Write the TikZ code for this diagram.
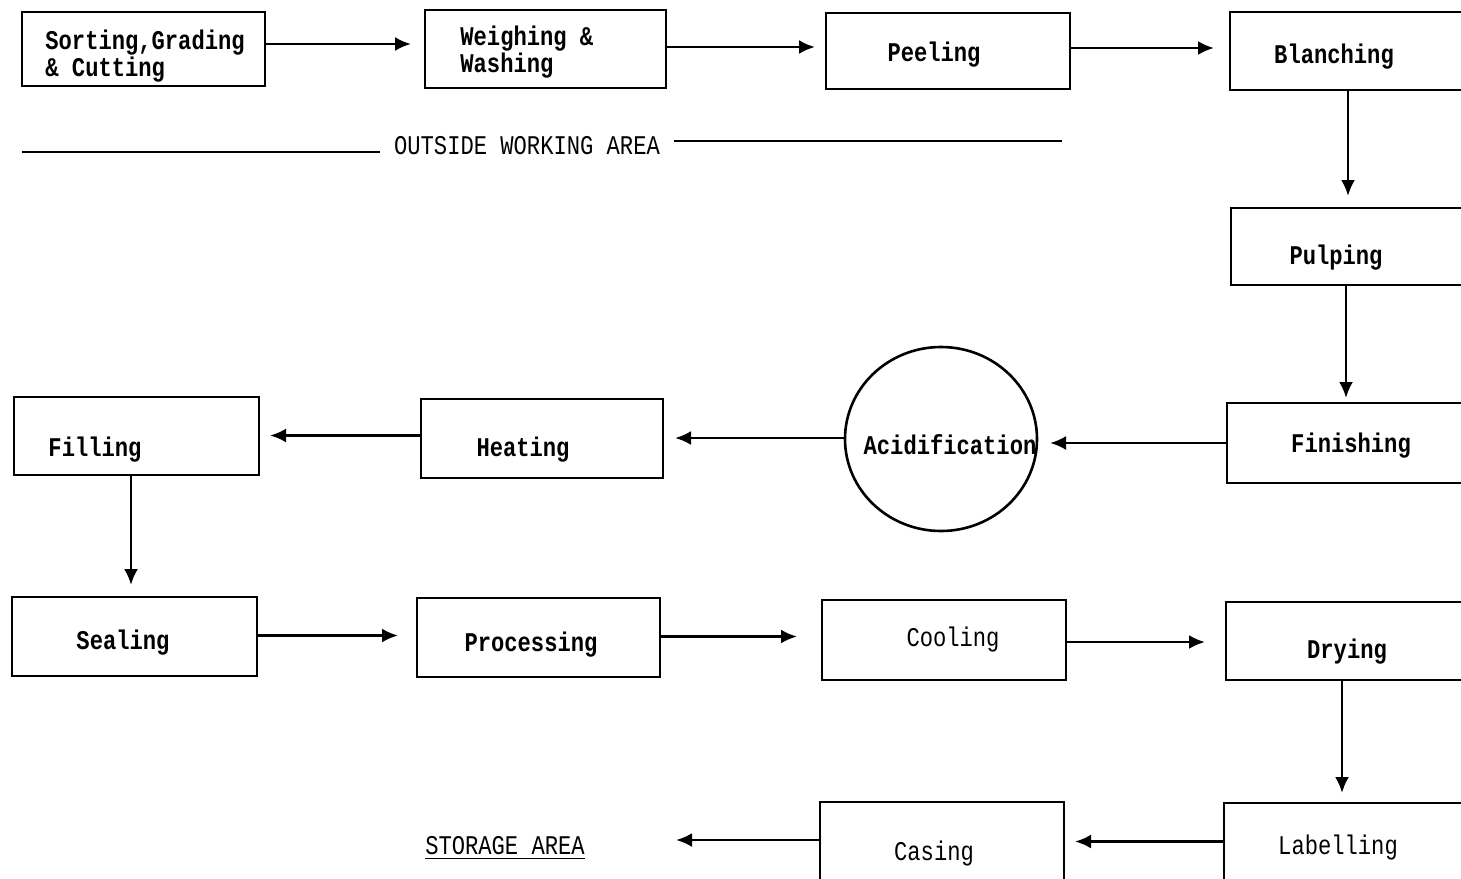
\documentclass[tikz,border=0pt]{standalone}
\usepackage{fontspec}
\newfontfamily\tw[FakeStretch=0.82]{Liberation Mono}
\usetikzlibrary{arrows.meta,shapes.geometric}
\begin{document}
\begin{tikzpicture}[x=0.5pt,y=-0.5pt,
  box/.style={draw,line width=1.3pt,inner sep=0pt,outer sep=0pt},
  bw/.style={minimum width=#1*0.5pt},
  bh/.style={minimum height=#1*0.5pt},
  lbl/.style={font=\tw\fontsize{13.5}{13.5}\selectfont\bfseries,inner sep=0pt,yshift=-1.5pt},
  lbll/.style={font=\tw\fontsize{13.5}{13.5}\selectfont,inner sep=0pt,yshift=-1.5pt},
  arr/.style={line width=1.3pt,-{Latex[length=8pt,width=7pt]}},
  ln/.style={line width=1.2pt}]
\useasboundingbox (0,0) rectangle (1461,878);
\clip (0,0) rectangle (1461,878);
% boxes
\node[box,bw=243,bh=74] (sort) at (143.5,49) {};
\node[box,bw=241,bh=78] (weigh) at (545.5,49) {};
\node[box,bw=244,bh=76] (peel) at (948,51) {};
\node[box,bw=260,bh=78] (blanch) at (1360,51) {};
\node[box,bw=259,bh=77] (pulp) at (1360.5,246.5) {};
\node[box,bw=263,bh=80] (finish) at (1358.5,443) {};
\node[draw,line width=1.3pt,ellipse,minimum width=96pt,minimum height=92pt,inner sep=0pt,outer sep=0pt] (acid) at (941,439) {};
\node[box,bw=242,bh=79] (heat) at (542,438.5) {};
\node[box,bw=245,bh=78] (fill) at (136.5,436) {};
\node[box,bw=245,bh=79] (seal) at (134.5,636.5) {};
\node[box,bw=243,bh=79] (proc) at (538.5,637.5) {};
\node[box,bw=244,bh=80] (cool) at (944,640) {};
\node[box,bw=264,bh=78] (dry) at (1358,641) {};
\node[box,bw=266,bh=97] (label) at (1357,851.5) {};
\node[box,bw=244,bh=98] (casing) at (942,851) {};
% texts
\node[lbl,anchor=west,align=left] (tsort) at (45,53) {Sorting,Grading\\\& Cutting};
\node[lbl,anchor=west,align=left] (tweigh) at (460,49) {Weighing \&\\Washing};
\node[lbl] (tpeel) at (934,52) {Peeling};
\node[lbl] (tblanch) at (1334,54) {Blanching};
\node[lbl] (tpulp) at (1336,255) {Pulping};
\node[lbl] (tfinish) at (1351,443) {Finishing};
\node[lbl] (tacid) at (950,442) {Acidification};
\node[lbl] (theat) at (523,447) {Heating};
\node[lbl] (tfill) at (95,447) {Filling};
\node[lbl] (tseal) at (123,640) {Sealing};
\node[lbl] (tproc) at (531,642) {Processing};
\node[lbll] (tcool) at (953,637) {Cooling};
\node[lbl] (tdry) at (1347,649) {Drying};
\node[lbll] (tlabel) at (1338,845) {Labelling};
\node[lbll] (tcasing) at (934,851) {Casing};
\node[lbll] (store) at (505,845) {\underline{STORAGE AREA}};
\node[lbll] (outside) at (527,143) {OUTSIDE WORKING AREA};
% outside working area rule
\coordinate (oa) at (22,152);
\coordinate (ob) at (1062,141);
\draw[ln] (oa) -- ([xshift=-7pt]outside.west |- oa);
\draw[ln] ([xshift=7pt]outside.east |- ob) -- (ob);
% column coordinates
\coordinate (c1) at (1348,0);
\coordinate (c2) at (1346,0);
\coordinate (c3) at (131,0);
\coordinate (c4) at (1342,0);
% arrows
\draw[arr,shorten >=7pt] ([yshift=2.5pt]sort.east) -- ([yshift=2.5pt]sort.east -| weigh.west);
\draw[arr,shorten >=5.5pt] ([yshift=1pt]weigh.east) -- ([yshift=1pt]weigh.east -| peel.west);
\draw[arr,shorten >=8pt] ([yshift=1.5pt]peel.east) -- ([yshift=1.5pt]peel.east -| blanch.west);
\draw[arr,shorten >=6pt] (blanch.south -| c1) -- (pulp.north -| c1);
\draw[arr,shorten >=2.5pt] (pulp.south -| c2) -- (finish.north -| c2);
\draw[arr,shorten >=6.5pt] (finish.west) -- (finish.west -| acid.east);
\draw[arr,shorten >=6pt] ([yshift=0.5pt]acid.west) -- ([yshift=0.5pt]acid.west -| heat.east);
\draw[arr,shorten >=5.5pt] ([yshift=1.5pt]heat.west) -- ([yshift=1.5pt]heat.west -| fill.east);
\draw[arr,shorten >=6pt] (fill.south -| c3) -- (seal.north -| c3);
\draw[arr,shorten >=9.5pt] ([yshift=0.5pt]seal.east) -- ([yshift=0.5pt]seal.east -| proc.west);
\draw[arr,shorten >=12.5pt] ([yshift=0.5pt]proc.east) -- ([yshift=0.5pt]proc.east -| cool.west);
\draw[arr,shorten >=10.5pt] ([yshift=-1pt]cool.east) -- ([yshift=-1pt]cool.east -| dry.west);
\draw[arr,shorten >=5pt] (dry.south -| c4) -- (label.north -| c4);
\draw[arr,shorten >=5.5pt] ([yshift=5pt]label.west) -- ([yshift=5pt]label.west -| casing.east);
\draw[arr] ([yshift=5.5pt]casing.west) -- ([yshift=5.5pt, xshift=-72pt]casing.west);
\end{tikzpicture}
\end{document}
